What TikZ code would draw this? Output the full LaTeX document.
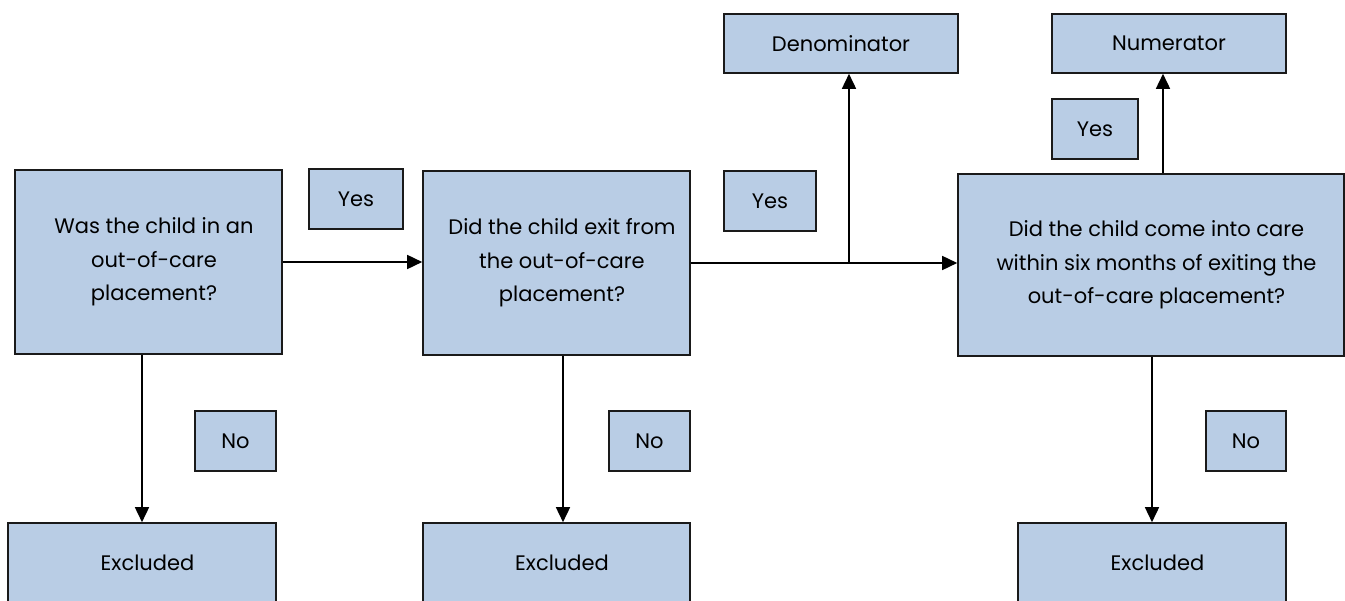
\documentclass[tikz,border=0pt]{standalone}
\usepackage{fontspec}
\setmainfont{Poppins}
\usetikzlibrary{arrows.meta}
\definecolor{boxfill}{HTML}{B9CDE5}
\definecolor{boxline}{HTML}{1A1A1A}
\newcommand{\padL}{\hspace*{11pt}}
\tikzset{
  box/.style={draw=boxline, fill=boxfill, line width=1.6pt, inner sep=0pt,
    align=center, text=black, font=\fontsize{21}{33.5}\selectfont},
  conn/.style={line width=1.6pt, draw=black},
  arr/.style={conn, -{Triangle[length=15pt,width=14pt]}}
}
\begin{document}
\begin{tikzpicture}[x=1pt,y=-1pt]
\useasboundingbox (0,0) rectangle (1345,601);
% main question boxes
\node[box, minimum width=267pt, minimum height=184pt] (q1) at (148.5,262)
  {\padL Was the child in an\\\padL out-of-care\\\padL placement?};
\node[box, minimum width=267pt, minimum height=184pt] (q2) at (556.5,263)
  {\padL Did the child exit from\\\padL the out-of-care\\\padL placement?};
\node[box, minimum width=386pt, minimum height=182pt] (q3) at (1151,265)
  {\padL Did the child come into care\\\padL within six months of exiting the\\\padL out-of-care placement?};
% result boxes
\node[box, minimum width=234pt, minimum height=59pt] (den) at (841,43.5) {Denominator};
\node[box, minimum width=234pt, minimum height=59pt] (num) at (1169,43.5) {Numerator};
\node[box, minimum width=268pt, minimum height=80pt] (e1) at (142,563) {\padL Excluded};
\node[box, minimum width=267pt, minimum height=80pt] (e2) at (556.5,563) {\padL Excluded};
\node[box, minimum width=268pt, minimum height=80pt] (e3) at (1152,563) {\padL Excluded};
% labels
\node[box, minimum width=94pt, minimum height=60pt] (y1) at (356,199) {Yes};
\node[box, minimum width=92pt, minimum height=60pt] (y2) at (770,201) {Yes};
\node[box, minimum width=86pt, minimum height=60pt] (y3) at (1095,129) {Yes};
\node[box, minimum width=81pt, minimum height=60pt] (n1) at (235.5,441) {No};
\node[box, minimum width=81pt, minimum height=60pt] (n2) at (649.5,441) {No};
\node[box, minimum width=80pt, minimum height=60pt] (n3) at (1246,441) {No};
% connectors
\draw[arr] (q1.east) -- (q1.east -| q2.west);
\draw[arr] (q2.east) -- (q2.east -| q3.west);
\coordinate (br) at (849,263);
\draw[arr] (br) -- (br |- den.south);
\coordinate (t3) at (1163,0);
\draw[arr] (t3 |- q3.north) -- (t3 |- num.south);
\draw[arr] (q1.south -| e1.north) -- (e1.north);
\coordinate (b2) at (563,0);
\draw[arr] (b2 |- q2.south) -- (b2 |- e2.north);
\draw[arr] (q3.south -| e3.north) -- (e3.north);
\end{tikzpicture}
\end{document}
